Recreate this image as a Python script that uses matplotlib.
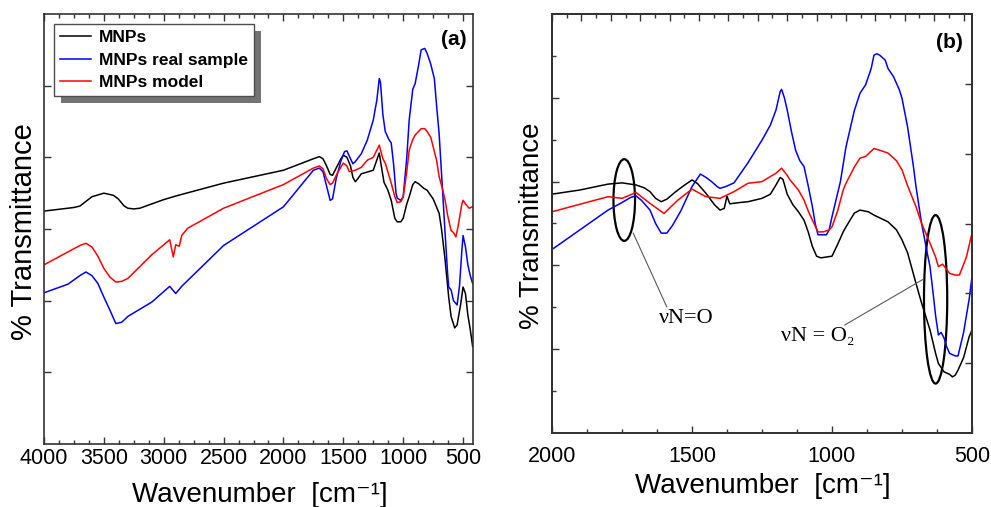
import numpy as np
import matplotlib
matplotlib.use("Agg")
import matplotlib.pyplot as plt
from matplotlib.patches import Ellipse, Rectangle
from matplotlib.ticker import MultipleLocator, FixedLocator, NullFormatter
from matplotlib.transforms import IdentityTransform

# ---------------- data: panel (a) ----------------
wa_black = [4000, 3750, 3700, 3600, 3500, 3420, 3380, 3330, 3300, 3250, 3200, 3000, 2900, 2500, 2000,
            1750, 1700, 1670, 1640, 1610, 1590, 1560, 1520, 1500, 1470, 1440, 1420, 1400, 1380, 1350,
            1250, 1200, 1180, 1160, 1130, 1100, 1070, 1050, 1020, 1000, 970, 950, 920, 900, 870,
            830, 800, 750, 720, 700, 680, 650, 620, 600, 570, 550, 520, 500, 480, 460, 440, 420]
ta_black = [3.25, 3.30, 3.32, 3.45, 3.50, 3.47, 3.42, 3.32, 3.29, 3.28, 3.29, 3.41, 3.46, 3.64, 3.82,
            3.98, 4.01, 3.98, 3.88, 3.76, 3.75, 3.85, 3.98, 4.03, 4.00, 3.88, 3.72, 3.66, 3.70, 3.77,
            3.82, 4.06, 3.85, 3.65, 3.55, 3.40, 3.15, 3.10, 3.10, 3.15, 3.35, 3.45, 3.62, 3.66, 3.63,
            3.57, 3.54, 3.42, 3.30, 3.22, 3.00, 2.57, 2.05, 1.78, 1.62, 1.66, 1.95, 2.19, 2.10, 1.80, 1.60, 1.36]

wa_blue = [4000, 3800, 3700, 3650, 3600, 3550, 3500, 3450, 3400, 3350, 3300, 3100, 2950, 2900, 2850,
           2500, 2000, 1750, 1700, 1670, 1640, 1610, 1590, 1560, 1520, 1490, 1470, 1440, 1420, 1400,
           1350, 1300, 1250, 1220, 1200, 1190, 1170, 1150, 1120, 1100, 1080, 1060, 1050, 1020, 1000,
           970, 950, 920, 900, 870, 850, 820, 800, 770, 740, 720, 700, 670, 650, 630, 620, 600,
           580, 550, 530, 510, 500, 480, 460, 440, 420]
ta_blue = [2.11, 2.23, 2.35, 2.40, 2.35, 2.24, 2.05, 1.87, 1.68, 1.70, 1.78, 1.98, 2.20, 2.10, 2.20,
           2.77, 3.31, 3.82, 3.85, 3.80, 3.60, 3.40, 3.42, 3.70, 3.95, 4.08, 4.09, 3.98, 3.91, 3.94,
           4.05, 4.24, 4.52, 4.80, 5.10, 5.05, 4.60, 4.36, 4.25, 4.20, 3.90, 3.50, 3.43, 3.40, 3.45,
           4.00, 4.52, 4.95, 5.03, 5.30, 5.50, 5.52, 5.45, 5.30, 5.10, 4.70, 4.33, 3.50, 2.94, 2.40, 2.19, 2.15,
           2.00, 1.94, 2.20, 2.70, 2.91, 2.75, 2.50, 2.35, 2.24]

wa_red = [4000, 3800, 3700, 3650, 3600, 3550, 3500, 3450, 3400, 3350, 3300, 3100, 2950, 2920, 2900,
          2870, 2850, 2800, 2500, 2000, 1750, 1700, 1670, 1640, 1610, 1590, 1550, 1500, 1470, 1450,
          1400, 1350, 1300, 1250, 1200, 1170, 1150, 1100, 1070, 1050, 1020, 1000, 970, 950, 920,
          900, 850, 820, 800, 770, 750, 720, 700, 670, 650, 630, 610, 600, 580, 560, 540, 510,
          500, 480, 450, 420]
ta_red = [2.50, 2.68, 2.77, 2.80, 2.75, 2.62, 2.45, 2.33, 2.26, 2.27, 2.31, 2.64, 2.85, 2.61, 2.78,
          2.76, 2.91, 3.01, 3.29, 3.62, 3.85, 3.88, 3.84, 3.70, 3.62, 3.64, 3.78, 3.92, 3.88, 3.80,
          3.82, 3.86, 3.96, 4.00, 4.17, 3.98, 3.92, 3.64, 3.45, 3.37, 3.38, 3.45, 3.80, 4.10, 4.25,
          4.31, 4.40, 4.40, 4.36, 4.28, 4.15, 3.95, 3.73, 3.55, 3.40, 3.20, 3.05, 2.98, 2.95, 2.89, 3.05, 3.35,
          3.40, 3.35, 3.29, 3.31]

# ---------------- data: panel (b) ----------------
wb_black = [2000, 1900, 1800, 1750, 1700, 1670, 1650, 1630, 1610, 1590, 1560, 1530, 1500, 1480, 1450,
            1420, 1400, 1385, 1375, 1365, 1330, 1300, 1250, 1220, 1200, 1185, 1175, 1160, 1140, 1120,
            1100, 1085, 1070, 1055, 1040, 1020, 1000, 980, 960, 950, 920, 900, 870, 850, 800,
            770, 750, 730, 700, 680, 650, 630, 620, 600, 580, 570, 560, 550, 530, 510, 500]
tb_black = [5.70, 5.80, 5.94, 5.97, 5.92, 5.85, 5.76, 5.60, 5.52, 5.58, 5.75, 5.90, 6.04, 5.95, 5.72,
            5.45, 5.32, 5.36, 5.65, 5.47, 5.50, 5.52, 5.60, 5.70, 5.92, 6.10, 6.05, 5.70, 5.45, 5.28,
            5.08, 4.80, 4.45, 4.22, 4.18, 4.20, 4.22, 4.50, 4.80, 4.92, 5.25, 5.32, 5.28, 5.20, 5.04,
            4.85, 4.61, 4.30, 3.57, 3.10, 2.46, 1.90, 1.66, 1.46, 1.40, 1.34, 1.38, 1.50, 1.80, 2.30, 2.46]

wb_blue = [2000, 1800, 1750, 1720, 1700, 1680, 1650, 1630, 1610, 1590, 1570, 1540, 1500, 1470, 1450,
           1430, 1410, 1400, 1380, 1350, 1300, 1250, 1220, 1200, 1185, 1180, 1170, 1160, 1145, 1130,
           1115, 1100, 1085, 1070, 1060, 1050, 1020, 1010, 1000, 970, 950, 920, 900, 880, 860,
           850, 840, 830, 810, 800, 780, 760, 750, 730, 710, 700, 680, 660, 650, 640, 630, 620,
           610, 600, 590, 580, 560, 550, 530, 510, 500]
tb_blue = [4.38, 5.32, 5.50, 5.62, 5.66, 5.55, 5.32, 5.00, 4.77, 4.77, 4.95, 5.30, 5.88, 6.18, 6.10,
           6.00, 5.88, 5.84, 5.88, 5.97, 6.45, 6.99, 7.35, 7.71, 8.15, 8.20, 8.00, 7.71, 7.20, 6.75,
           6.50, 6.36, 5.90, 5.40, 5.00, 4.73, 4.73, 4.85, 5.16, 6.00, 6.83, 7.70, 8.11, 8.31, 8.70,
           9.02, 9.05, 9.02, 8.90, 8.70, 8.50, 8.20, 7.99, 7.30, 6.40, 5.88, 5.00, 4.30, 3.97, 3.40, 2.80, 2.34,
           2.40, 2.27, 2.05, 1.90, 1.84, 1.84, 2.40, 3.20, 3.73]

wb_red = [2000, 1800, 1750, 1700, 1650, 1600, 1550, 1500, 1450, 1400, 1350, 1300, 1250, 1200, 1180,
          1160, 1150, 1120, 1100, 1085, 1070, 1050, 1030, 1010, 1000, 980, 960, 950, 920, 900,
          880, 850, 830, 800, 770, 750, 730, 700, 680, 650, 630, 620, 605, 590, 580, 560,
          545, 520, 500]
tb_red = [5.28, 5.64, 5.60, 5.74, 5.48, 5.24, 5.56, 5.82, 5.64, 5.60, 5.76, 5.96, 6.00, 6.20, 6.32,
          6.15, 6.04, 5.80, 5.56, 5.30, 5.08, 4.80, 4.80, 4.85, 4.92, 5.30, 5.80, 5.96, 6.35, 6.56,
          6.60, 6.79, 6.75, 6.68, 6.50, 6.28, 5.90, 5.40, 5.00, 4.53, 4.20, 3.97, 4.03, 3.90, 3.81, 3.77,
          3.77, 4.20, 4.77]

series_labels = ["MNPs", "MNPs real sample", "MNPs model"]
series_colors = ["black", "#0000ff", "#ff0000"]
xticks_a = [4000, 3500, 3000, 2500, 2000, 1500, 1000, 500]
xticks_b = [2000, 1500, 1000, 500]

SANS = ["Liberation Sans", "DejaVu Sans"]
SERIF = ["Liberation Serif", "DejaVu Serif"]
plt.rcParams["font.family"] = SANS

W, H = 991, 507
fig = plt.figure(figsize=(W / 100, H / 100), dpi=100)

def fbox(l, t, r, b):
    return [l / W, 1 - b / H, (r - l) / W, (b - t) / H]

spine_c = "#333333"

def style(ax):
    for s in ax.spines.values():
        s.set_color(spine_c)
        s.set_linewidth(1.2)

# ---------------- panel (a) ----------------
axa = fig.add_axes(fbox(44, 14, 473, 444))
for w, t, c, lab in zip([wa_black, wa_blue, wa_red], [ta_black, ta_blue, ta_red], series_colors, series_labels):
    axa.plot(w, t, color=c, lw=1.1, label=lab)
axa.set_xlim(4000, 417)
axa.set_ylim(0, 6)
axa.xaxis.set_major_locator(FixedLocator(xticks_a))
axa.xaxis.set_minor_locator(MultipleLocator(125))
axa.set_yticks([1, 2, 3, 4, 5])
axa.set_yticklabels([])
axa.tick_params(axis="both", which="both", direction="in", top=True, right=True, color=spine_c)
axa.tick_params(axis="x", which="major", length=5, width=1, labelsize=15.5, pad=3)
axa.tick_params(axis="x", which="minor", length=3, width=1)
axa.tick_params(axis="y", which="major", length=5, width=1)
style(axa)
axa.text(0.984, 0.94, "(a)", transform=axa.transAxes, ha="right", va="center",
         fontsize=15, fontweight="bold")

leg = axa.legend(loc="upper left", bbox_to_anchor=(10 / 429, 1 - 10 / 430), borderaxespad=0,
                 frameon=True, fancybox=False, framealpha=1, edgecolor="0.3",
                 prop={"weight": "bold", "size": 12.5}, handlelength=1.8, handletextpad=0.45,
                 labelspacing=0.42, borderpad=0.35)
leg.get_frame().set_linewidth(1.0)
leg.set_zorder(6)

# ---------------- panel (b) ----------------
axb = fig.add_axes(fbox(552, 14, 972, 433))
for w, t, c in zip([wb_black, wb_blue, wb_red], [tb_black, tb_blue, tb_red], series_colors):
    axb.plot(w, t, color=c, lw=1.1)
axb.set_xlim(2000, 500)
axb.set_ylim(0, 10)
axb.xaxis.set_major_locator(FixedLocator(xticks_b))
axb.xaxis.set_minor_locator(MultipleLocator(125))
axb.yaxis.set_major_locator(FixedLocator([2, 4, 6, 8]))
axb.yaxis.set_minor_locator(FixedLocator([1, 3, 5, 7, 9]))
axb.yaxis.set_major_formatter(NullFormatter())
axb.tick_params(axis="both", which="both", direction="in", color=spine_c)
axb.tick_params(axis="x", which="major", length=5, width=1, labelsize=15.5, pad=9)
axb.tick_params(axis="x", which="minor", length=3, width=1)
axb.tick_params(axis="y", which="major", length=5, width=1)
axb.tick_params(axis="y", which="minor", length=3, width=1)
style(axb)

axr = axb.twinx()
axr.set_ylim(0, 6)
axr.set_yticks([1, 2, 3, 4, 5])
axr.set_yticklabels([])
axr.tick_params(axis="y", direction="in", length=5, width=1, color=spine_c)
style(axr)

axt = axb.twiny()
axt.set_xlim(0, 420 / 14.7)
axt.xaxis.set_major_locator(MultipleLocator(2))
axt.xaxis.set_minor_locator(MultipleLocator(1))
axt.xaxis.set_major_formatter(NullFormatter())
axt.tick_params(axis="x", which="major", direction="in", length=5, width=1, color=spine_c)
axt.tick_params(axis="x", which="minor", direction="in", length=3, width=1, color=spine_c)
style(axt)

axb.text(0.979, 0.933, "(b)", transform=axb.transAxes, ha="right", va="center",
         fontsize=15, fontweight="bold")

# annotations
axb.add_patch(Ellipse((1742, 5.56), 77, 1.95, fill=False, ec="black", lw=1.6))
axb.add_patch(Ellipse((630, 3.19), 83, 4.02, fill=False, ec="black", lw=1.6))
axb.plot([1710, 1590], [4.77, 3.01], color="0.35", lw=0.8)
axb.plot([674, 954], [3.67, 2.58], color="0.35", lw=0.8)
axb.text(1519, 2.74, "νN=O", family=SERIF, fontsize=16, ha="center", va="center")
axb.text(1050, 2.30, "νN = O₂", family=SERIF, fontsize=16, ha="center", va="center")

# axis labels
fig.text(24 / W, 1 - 232 / H, "% Transmittance", rotation=90, ha="center", va="center", fontsize=21)
fig.text(532 / W, 1 - 226 / H, "% Transmittance", rotation=90, ha="center", va="center", fontsize=20)
fig.text(260 / W, 1 - 502 / H, "Wavenumber  [cm⁻¹]", ha="center", va="baseline", fontsize=20)
fig.text(763 / W, 1 - 493 / H, "Wavenumber  [cm⁻¹]", ha="center", va="baseline", fontsize=20)

# legend shadow
fig.canvas.draw()
bb = leg.get_window_extent()
shadow = Rectangle((bb.x0 + 7, bb.y0 - 7), bb.width, bb.height, transform=IdentityTransform(),
                   facecolor="0.45", edgecolor="none", zorder=5.5, clip_on=False)
axa.add_artist(shadow)

fig.savefig("out.png", dpi=100)
